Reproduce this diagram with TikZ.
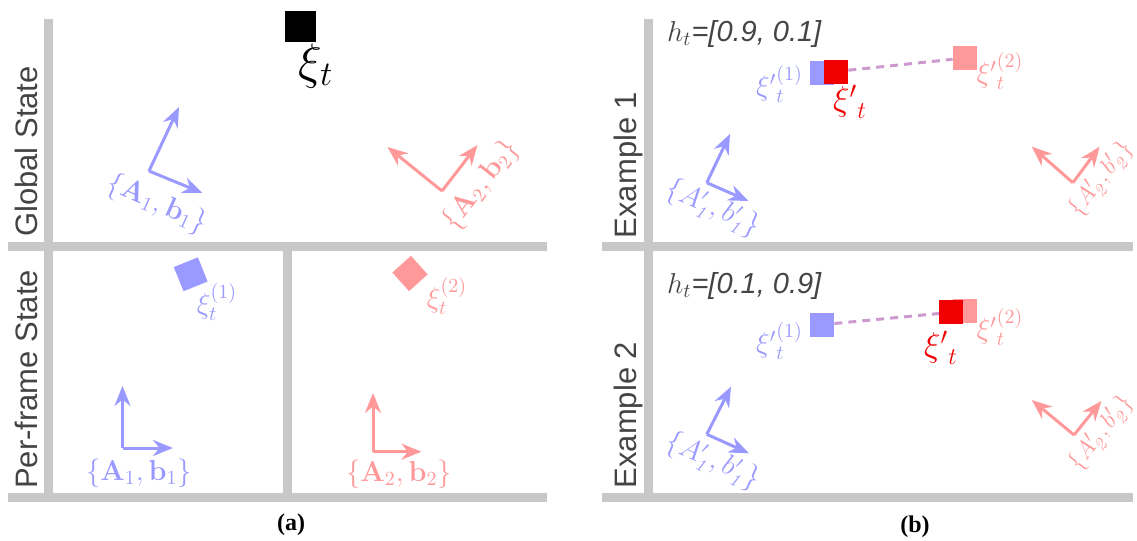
\documentclass[tikz,border=0pt]{standalone}
\usepackage[no-math]{fontspec}
\usepackage{amsmath}
\usetikzlibrary{arrows.meta, calc}
\newfontfamily\sidefont{Liberation Sans}
\newfontfamily\capfont{Liberation Serif}
\definecolor{barg}{HTML}{C8C8C8}
\definecolor{txtg}{HTML}{444444}
\definecolor{fblue}{HTML}{9999FF}
\definecolor{fpink}{HTML}{FF9999}
\definecolor{fred}{HTML}{F00000}
\definecolor{fmix}{HTML}{CC9ACF}

\tikzset{
    bar/.style={barg, line width=4.5pt},
    farrow/.style={-{Stealth[length=10pt, width=8pt]}, line width=1.5pt},
    sqnode/.style={inner sep=0pt, minimum size=12pt},
    sidelabel/.style={rotate=90, text=txtg, font=\sidefont\fontsize{15.5}{18}\selectfont},
}

\begin{document}
\begin{tikzpicture}[x=0.5pt, y=-0.5pt]
    \useasboundingbox (0,0) rectangle (1137,541);

    % panel (a)
    \draw[bar] (48,19) -- (48,502);
    \draw[bar] (8,246) -- (547,246);
    \draw[bar] (8,497.5) -- (547,497.5);
    \draw[bar] (287.5,246) -- (287.5,502);
    \node[sidelabel] (gstate) at (26,151.5) {Global State};
    \node[sidelabel] (pstate) at (26,379.5) {Per-frame State};

    \node[sqnode, fill=black, minimum size=15.5pt] (xi) at (300.5,26) {};
    \node[font=\fontsize{24}{28}\selectfont] (xilab) at (316,66) {$\xi_t$};

    \coordinate (go1) at (149,171);
    \coordinate (go1y) at (179,107);
    \coordinate (go1x) at (202.5,193);
    \draw[farrow, fblue] (go1) -- (go1y);
    \draw[farrow, fblue] (go1) -- (go1x);
    \node[text=fblue, rotate=-24, font=\fontsize{14}{16}\selectfont] (glab1) at (157,204) {$\{\mathbf{A}_1, \mathbf{b}_1\}$};

    \coordinate (go2) at (442,191);
    \coordinate (go2y) at (387.5,147);
    \coordinate (go2x) at (477.5,145);
    \draw[farrow, fpink] (go2) -- (go2y);
    \draw[farrow, fpink] (go2) -- (go2x);
    \node[text=fpink, rotate=52, font=\fontsize{14}{16}\selectfont] (glab2) at (481,185) {$\{\mathbf{A}_2, \mathbf{b}_2\}$};

    \node[sqnode, fill=fblue, minimum size=13pt, rotate=22] (pxi1) at (190.7,274.3) {};
    \node[text=fblue, font=\fontsize{14}{16}\selectfont] (pxilab1) at (217,302) {$\xi_t^{(1)}$};
    \node[sqnode, fill=fpink, minimum size=12.5pt, rotate=42] (pxi2) at (410,273.5) {};
    \node[text=fpink, font=\fontsize{14}{16}\selectfont] (pxilab2) at (447,296) {$\xi_t^{(2)}$};

    \coordinate (po1) at (122.5,448);
    \coordinate (po1y) at (122.5,386);
    \coordinate (po1x) at (173,448);
    \draw[farrow, fblue] (po1) -- (po1y);
    \draw[farrow, fblue] (po1) -- (po1x);
    \node[text=fblue, font=\fontsize{14}{16}\selectfont] (plab1) at (139,473) {$\{\mathbf{A}_1, \mathbf{b}_1\}$};

    \coordinate (po2) at (373,451.7);
    \coordinate (po2y) at (373,393);
    \coordinate (po2x) at (421.4,451.7);
    \draw[farrow, fpink] (po2) -- (po2y);
    \draw[farrow, fpink] (po2) -- (po2x);
    \node[text=fpink, font=\fontsize{14}{16}\selectfont] (plab2) at (399,474) {$\{\mathbf{A}_2, \mathbf{b}_2\}$};

    \node[font=\capfont\bfseries\fontsize{12}{14}\selectfont] (capa) at (291,525) {(a)};

    % panel (b)
    \draw[bar] (648,19) -- (648,502);
    \draw[bar] (602,246) -- (1133,246);
    \draw[bar] (602,497.5) -- (1133,497.5);
    \node[sidelabel] (ex1) at (628,165) {Example 1};
    \node[sidelabel] (ex2) at (628,415) {Example 2};

    % example 1
    \node[anchor=west, text=txtg, font=\sidefont\itshape\fontsize{14.5}{17}\selectfont] (h1) at (660,34) {$h_t$=[0.9, 0.1]};
    \node[sqnode, fill=fblue] (ab1) at (822,73) {};
    \node[sqnode, fill=fpink] (ap1) at (965,58) {};
    \draw[fmix, line width=1.5pt, dash pattern=on 4pt off 3pt] (ab1) -- (ap1);
    \node[sqnode, fill=fred] (ar1) at ($(ab1)!0.1!(ap1)$) {};
    \node[text=fblue, anchor=east, font=\fontsize{14.5}{17}\selectfont] (ablab) at (810,84) {${\xi'}^{(1)}_t$};
    \node[text=fred, font=\fontsize{18}{21}\selectfont] (arlab) at (850,102) {${\xi'}_t$};
    \node[text=fpink, font=\fontsize{14.5}{17}\selectfont] (aplab) at (1000,71) {${\xi'}^{(2)}_t$};

    \coordinate (ao1) at (706.8,182.7);
    \coordinate (ao1y) at (730,134);
    \coordinate (ao1x) at (748.6,201);
    \draw[farrow, fblue] (ao1) -- (ao1y);
    \draw[farrow, fblue] (ao1) -- (ao1x);
    \node[text=fblue, rotate=-24, font=\fontsize{13.5}{16}\selectfont] (aflab1) at (713,208) {$\{A'_{\mathit{1}}, b'_{\mathit{1}}\}$};

    \coordinate (ao2) at (1072.9,182.7);
    \coordinate (ao2y) at (1031.8,146.7);
    \coordinate (ao2x) at (1099.6,146.7);
    \draw[farrow, fpink] (ao2) -- (ao2y);
    \draw[farrow, fpink] (ao2) -- (ao2x);
    \node[text=fpink, rotate=52, font=\fontsize{13}{15}\selectfont] (aflab2) at (1101,179) {$\{A'_{\mathit{2}}, b'_{\mathit{2}}\}$};

    % example 2
    \node[anchor=west, text=txtg, font=\sidefont\itshape\fontsize{14.5}{17}\selectfont] (h2) at (660,286) {$h_t$=[0.1, 0.9]};
    \node[sqnode, fill=fblue] (bb1) at (822,324.7) {};
    \node[sqnode, fill=fpink] (bp1) at (965,311) {};
    \draw[fmix, line width=1.5pt, dash pattern=on 4pt off 3pt] (bb1) -- (bp1);
    \node[sqnode, fill=fred] (br1) at ($(bb1)!0.9!(bp1)$) {};
    \node[text=fblue, anchor=east, font=\fontsize{14.5}{17}\selectfont] (bblab) at (810,341) {${\xi'}^{(1)}_t$};
    \node[text=fred, font=\fontsize{18}{21}\selectfont] (brlab) at (941,348) {${\xi'}_t$};
    \node[text=fpink, font=\fontsize{14.5}{17}\selectfont] (bplab) at (1000,327) {${\xi'}^{(2)}_t$};

    \coordinate (bo1) at (706.8,434.3);
    \coordinate (bo1y) at (731,386.7);
    \coordinate (bo1x) at (749,453.3);
    \draw[farrow, fblue] (bo1) -- (bo1y);
    \draw[farrow, fblue] (bo1) -- (bo1x);
    \node[text=fblue, rotate=-24, font=\fontsize{13.5}{16}\selectfont] (bflab1) at (713,461) {$\{A'_{\mathit{1}}, b'_{\mathit{1}}\}$};

    \coordinate (bo2) at (1074,435);
    \coordinate (bo2y) at (1031.8,400);
    \coordinate (bo2x) at (1101.4,401);
    \draw[farrow, fpink] (bo2) -- (bo2y);
    \draw[farrow, fpink] (bo2) -- (bo2x);
    \node[text=fpink, rotate=52, font=\fontsize{13}{15}\selectfont] (bflab2) at (1101,433) {$\{A'_{\mathit{2}}, b'_{\mathit{2}}\}$};

    \node[font=\capfont\bfseries\fontsize{12}{14}\selectfont] (capb) at (915,527) {(b)};
\end{tikzpicture}
\end{document}
